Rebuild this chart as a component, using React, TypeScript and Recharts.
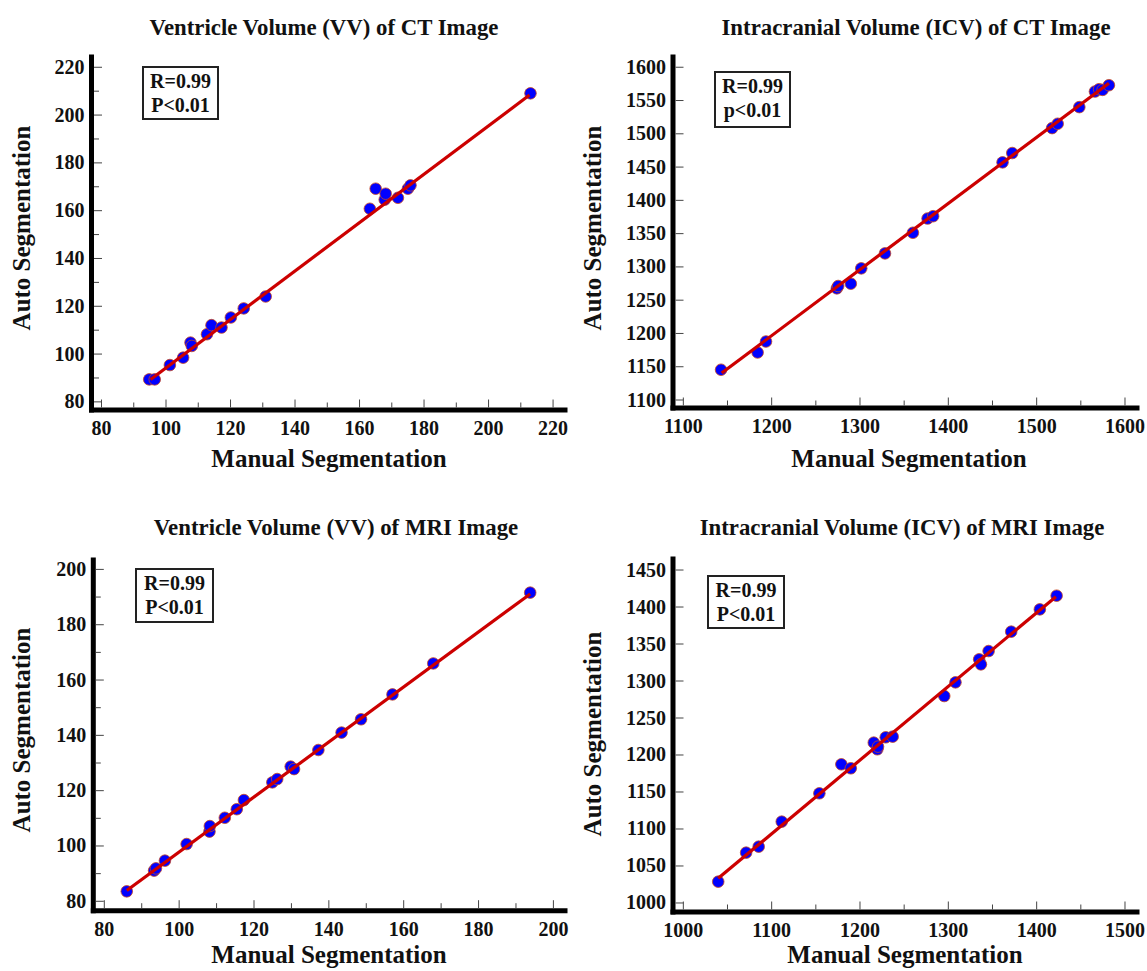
import React from 'react';
import { ScatterChart, Scatter, XAxis, YAxis } from 'recharts';

const FONT = '"Liberation Serif", "Times New Roman", serif';

// ---------- Panel 1: Ventricle Volume (VV) of CT Image ----------
const vvCtManual = [94.8, 96.5, 101.2, 105.3, 107.6, 108.0, 112.7, 114.1, 117.2, 120.1, 124.1, 130.9, 163.2, 165.0, 167.8, 168.1, 171.9, 175.0, 175.8, 213.0];
const vvCtAuto = [89.4, 89.4, 95.4, 98.5, 104.8, 103.4, 108.3, 112.1, 111.1, 115.3, 119.1, 124.1, 160.8, 169.2, 164.6, 167.1, 165.4, 169.2, 170.6, 209.1];
const vvCtFitX = [95.2, 212.7];
const vvCtFitY = [89.4, 208.4];
const vvCtXMajor = [80, 100, 120, 140, 160, 180, 200, 220];
const vvCtXMinor = [90, 110, 130, 150, 170, 190, 210];
const vvCtYMajor = [80, 100, 120, 140, 160, 180, 200, 220];
const vvCtYMinor = [90, 110, 130, 150, 170, 190, 210];

// ---------- Panel 2: Intracranial Volume (ICV) of CT Image ----------
const icvCtManual = [1142.7, 1184.1, 1193.6, 1273.8, 1275.3, 1289.6, 1301.4, 1328.3, 1359.9, 1376.5, 1382.8, 1461.4, 1472.4, 1517.5, 1523.8, 1548.3, 1566.0, 1570.7, 1574.7, 1581.8];
const icvCtAuto = [1145.5, 1171.4, 1187.9, 1267.8, 1271.3, 1274.8, 1297.8, 1320.3, 1351.3, 1372.7, 1376.2, 1457.1, 1471.1, 1508.6, 1515.1, 1540.1, 1563.5, 1567.0, 1566.0, 1573.0];
const icvCtFitX = [1143.4, 1581.8];
const icvCtFitY = [1140.5, 1576.0];
const icvCtXMajor = [1100, 1200, 1300, 1400, 1500, 1600];
const icvCtXMinor = [1150, 1250, 1350, 1450, 1550];
const icvCtYMajor = [1100, 1150, 1200, 1250, 1300, 1350, 1400, 1450, 1500, 1550, 1600];
const icvCtYMinor: number[] = [];

// ---------- Panel 3: Ventricle Volume (VV) of MRI Image ----------
const vvMriManual = [86.0, 93.3, 93.8, 96.2, 102.0, 108.1, 108.2, 112.2, 115.4, 117.3, 124.9, 126.2, 129.8, 130.7, 137.2, 143.4, 148.6, 157.0, 167.9, 193.8];
const vvMriAuto = [83.6, 91.1, 91.9, 94.7, 100.7, 105.2, 107.2, 110.2, 113.3, 116.6, 123.0, 124.2, 128.7, 127.8, 134.7, 141.0, 145.8, 154.8, 166.0, 191.6];
const vvMriFitX = [86.0, 193.8];
const vvMriFitY = [83.9, 191.1];
const vvMriXMajor = [80, 100, 120, 140, 160, 180, 200];
const vvMriXMinor = [90, 110, 130, 150, 170, 190];
const vvMriYMajor = [80, 100, 120, 140, 160, 180, 200];
const vvMriYMinor = [90, 110, 130, 150, 170, 190];

// ---------- Panel 4: Intracranial Volume (ICV) of MRI Image ----------
const icvMriManual = [1039.5, 1071.1, 1085.3, 1111.4, 1154.0, 1178.9, 1189.6, 1215.6, 1219.6, 1220.4, 1229.1, 1237.0, 1295.4, 1308.1, 1334.9, 1336.9, 1345.6, 1371.2, 1403.6, 1422.6];
const icvMriAuto = [1028.8, 1068.0, 1076.1, 1109.9, 1148.2, 1187.4, 1182.0, 1216.7, 1207.7, 1211.3, 1223.9, 1224.8, 1279.7, 1298.2, 1329.3, 1322.5, 1340.5, 1366.7, 1396.8, 1415.3];
const icvMriFitX = [1039.5, 1421.8];
const icvMriFitY = [1033.3, 1414.0];
const icvMriXMajor = [1000, 1100, 1200, 1300, 1400, 1500];
const icvMriXMinor = [1050, 1150, 1250, 1350, 1450];
const icvMriYMajor = [1000, 1050, 1100, 1150, 1200, 1250, 1300, 1350, 1400, 1450];
const icvMriYMinor: number[] = [];

const titles = [
  'Ventricle Volume (VV) of CT Image',
  'Intracranial Volume (ICV) of CT Image',
  'Ventricle Volume (VV) of MRI Image',
  'Intracranial Volume (ICV) of MRI Image',
];
const statLines = [
  ['R=0.99', 'P<0.01'],
  ['R=0.99', 'p<0.01'],
  ['R=0.99', 'P<0.01'],
  ['R=0.99', 'P<0.01'],
];
const xTitle = 'Manual Segmentation';
const yTitle = 'Auto Segmentation';

const zip = (xs: number[], ys: number[]) => xs.map((x, i) => ({ x, y: ys[i] }));

const AXIS_W = 5;

function makeXTick(majors: number[]) {
  return (props: any) => {
    const { x, y, payload } = props;
    const v = payload.value;
    const major = majors.some((m) => Math.abs(m - v) < 1e-6);
    return (
      <g>
        <line x1={x} x2={x} y1={y - AXIS_W / 2} y2={y - AXIS_W / 2 - (major ? 8 : 5)} stroke="#444" strokeWidth={1} />
        {major && (
          <text x={x} y={y + 25} textAnchor="middle" fontFamily={FONT} fontWeight="bold" fontSize={20} fill="#111">
            {v}
          </text>
        )}
      </g>
    );
  };
}

function makeYTick(majors: number[]) {
  return (props: any) => {
    const { x, y, payload } = props;
    const v = payload.value;
    const major = majors.some((m) => Math.abs(m - v) < 1e-6);
    return (
      <g>
        <line x1={x + AXIS_W / 2} x2={x + AXIS_W / 2 + (major ? 8 : 5)} y1={y} y2={y} stroke="#444" strokeWidth={1} />
        {major && (
          <text x={x - 7} y={y + 6.5} textAnchor="end" fontFamily={FONT} fontWeight="bold" fontSize={20} fill="#111">
            {v}
          </text>
        )}
      </g>
    );
  };
}

const Dot = (props: any) => {
  const { cx, cy } = props;
  if (cx == null || cy == null) return <g />;
  return <circle cx={cx} cy={cy} r={5.8} fill="#0000ff" stroke="#c8461e" strokeWidth={0.8} />;
};
const NoDot = () => <g />;

type Panel = {
  left: number;
  top: number;
  width: number;
  height: number;
  margin: { top: number; right: number; bottom: number; left: number };
  xDomain: [number, number];
  yDomain: [number, number];
  xMajor: number[];
  xMinor: number[];
  yMajor: number[];
  yMinor: number[];
  points: { x: number; y: number }[];
  fit: { x: number; y: number }[];
};

const panels: Panel[] = [
  {
    left: 0, top: 0, width: 573, height: 485,
    margin: { top: 57, right: 8, bottom: 35, left: 31.5 },
    xDomain: [76.9, 223.7], yDomain: [76.6, 224.3],
    xMajor: vvCtXMajor, xMinor: vvCtXMinor, yMajor: vvCtYMajor, yMinor: vvCtYMinor,
    points: zip(vvCtManual, vvCtAuto), fit: zip(vvCtFitX, vvCtFitY),
  },
  {
    left: 573, top: 0, width: 574, height: 485,
    margin: { top: 57, right: 10, bottom: 37, left: 40 },
    xDomain: [1088.3, 1613.6], yDomain: [1088, 1615.4],
    xMajor: icvCtXMajor, xMinor: icvCtXMinor, yMajor: icvCtYMajor, yMinor: icvCtYMinor,
    points: zip(icvCtManual, icvCtAuto), fit: zip(icvCtFitX, icvCtFitY),
  },
  {
    left: 0, top: 485, width: 573, height: 486,
    margin: { top: 75, right: 8, bottom: 20.3, left: 33.3 },
    xDomain: [77.06, 203.1], yDomain: [76.6, 203.4],
    xMajor: vvMriXMajor, xMinor: vvMriXMinor, yMajor: vvMriYMajor, yMinor: vvMriYMinor,
    points: zip(vvMriManual, vvMriAuto), fit: zip(vvMriFitX, vvMriFitY),
  },
  {
    left: 573, top: 485, width: 574, height: 486,
    margin: { top: 74, right: 10, bottom: 19, left: 40 },
    xDomain: [988.3, 1513.6], yDomain: [987.8, 1464.9],
    xMajor: icvMriXMajor, xMinor: icvMriXMinor, yMajor: icvMriYMajor, yMinor: icvMriYMinor,
    points: zip(icvMriManual, icvMriAuto), fit: zip(icvMriFitX, icvMriFitY),
  },
];

// overlay text placement
const titlePos = [
  { x: 324, y: 35 },
  { x: 916, y: 35 },
  { x: 336, y: 535 },
  { x: 902, y: 535 },
];
const xTitlePos = [
  { x: 329, y: 467 },
  { x: 909, y: 467 },
  { x: 329, y: 963 },
  { x: 905, y: 963 },
];
const yTitlePos = [
  { x: 30, y: 228 },
  { x: 601, y: 228 },
  { x: 30, y: 730 },
  { x: 601, y: 734 },
];
const boxPos = [
  { x: 143, y: 67, w: 75, h: 52 },
  { x: 715, y: 72, w: 75, h: 55 },
  { x: 136, y: 569, w: 77, h: 53 },
  { x: 708, y: 576, w: 76, h: 52 },
];

function PanelChart({ p }: { p: Panel }) {
  const axisLine = { stroke: '#000', strokeWidth: AXIS_W, strokeLinecap: 'square' as const };
  return (
    <div style={{ position: 'absolute', left: p.left, top: p.top, width: p.width, height: p.height }}>
      <ScatterChart width={p.width} height={p.height} margin={p.margin}>
        <XAxis
          type="number"
          dataKey="x"
          domain={p.xDomain}
          allowDataOverflow
          ticks={[...p.xMajor, ...p.xMinor].sort((a, b) => a - b)}
          interval={0}
          tickSize={0}
          tickMargin={0}
          tickLine={false}
          axisLine={axisLine}
          tick={makeXTick(p.xMajor)}
          height={40}
        />
        <YAxis
          type="number"
          dataKey="y"
          domain={p.yDomain}
          allowDataOverflow
          ticks={[...p.yMajor, ...p.yMinor].sort((a, b) => a - b)}
          interval={0}
          tickSize={0}
          tickMargin={0}
          tickLine={false}
          axisLine={axisLine}
          tick={makeYTick(p.yMajor)}
          width={60}
        />
        <Scatter data={p.points} shape={Dot} isAnimationActive={false} />
        <Scatter
          data={p.fit}
          shape={NoDot}
          line={{ stroke: '#cc0000', strokeWidth: 3.2 }}
          isAnimationActive={false}
        />
      </ScatterChart>
    </div>
  );
}

export default function App() {
  return (
    <div style={{ position: 'absolute', left: 0, top: 0, width: 1147, height: 971, background: '#fff', overflow: 'hidden' }}>
      {panels.map((p, i) => (
        <PanelChart key={i} p={p} />
      ))}
      <svg
        width={1147}
        height={971}
        style={{ position: 'absolute', left: 0, top: 0, pointerEvents: 'none' }}
      >
        {titles.map((t, i) => (
          <text
            key={'t' + i}
            x={titlePos[i].x}
            y={titlePos[i].y}
            textAnchor="middle"
            fontFamily={FONT}
            fontWeight="bold"
            fontSize={22.8}
            fill="#111"
          >
            {t}
          </text>
        ))}
        {xTitlePos.map((pos, i) => (
          <text
            key={'x' + i}
            x={pos.x}
            y={pos.y}
            textAnchor="middle"
            fontFamily={FONT}
            fontWeight="bold"
            fontSize={25}
            fill="#111"
          >
            {xTitle}
          </text>
        ))}
        {yTitlePos.map((pos, i) => (
          <text
            key={'y' + i}
            transform={`translate(${pos.x},${pos.y}) rotate(-90)`}
            textAnchor="middle"
            fontFamily={FONT}
            fontWeight="bold"
            fontSize={25}
            fill="#111"
          >
            {yTitle}
          </text>
        ))}
        {boxPos.map((b, i) => (
          <g key={'b' + i}>
            <rect x={b.x} y={b.y} width={b.w} height={b.h} fill="#fff" stroke="#222" strokeWidth={2} />
            <text x={b.x + b.w / 2} y={b.y + 21} textAnchor="middle" fontFamily={FONT} fontWeight="bold" fontSize={20} fill="#111">
              {statLines[i][0]}
            </text>
            <text x={b.x + b.w / 2} y={b.y + 44.5} textAnchor="middle" fontFamily={FONT} fontWeight="bold" fontSize={20} fill="#111">
              {statLines[i][1]}
            </text>
          </g>
        ))}
      </svg>
    </div>
  );
}
